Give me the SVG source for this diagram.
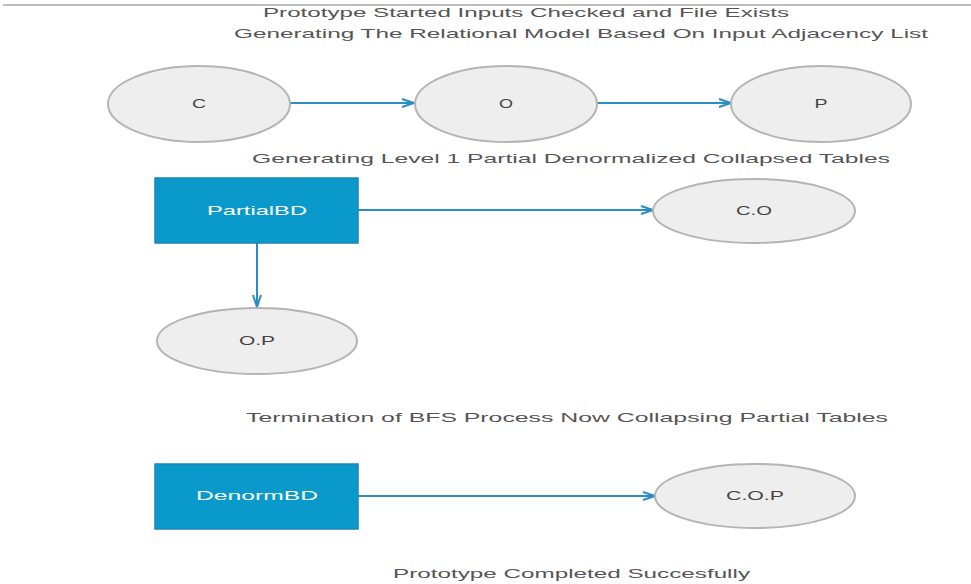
<svg xmlns="http://www.w3.org/2000/svg" width="971" height="584" viewBox="0 0 971 584">
  <style>
    .caption { font-family: "Liberation Sans", Arial, sans-serif; font-size: 13px; fill: #555; }
    .ent ellipse { fill: #eeeeee; stroke: #b4b4b4; stroke-width: 2; }
    .ent text { font-family: "Liberation Sans", Arial, sans-serif; font-size: 12px; fill: #444; text-anchor: middle; }
    .box rect { fill: #0a99cb; stroke: #1c84b4; stroke-width: 1.5; }
    .box text { font-family: "Liberation Sans", Arial, sans-serif; font-size: 13px; fill: #ffffff; text-anchor: middle; }
    .edge { stroke: #2a8dc5; stroke-width: 2; fill: none; }
  </style>
  <defs>
    <marker id="arrow" viewBox="0 0 14 10" refX="13" refY="5" markerWidth="14" markerHeight="10" markerUnits="userSpaceOnUse" orient="auto">
      <path d="M1,1 L13,5 L1,9" fill="none" stroke="#2a8dc5" stroke-width="2"/>
    </marker>
  </defs>
  <rect width="971" height="584" fill="#ffffff"/>
  <line x1="3" y1="5" x2="971" y2="5" stroke="#bdbdbd" stroke-width="2"/>

  <!-- status captions -->
  <g id="captions">
    <text class="caption" x="263" y="17" textLength="526" lengthAdjust="spacingAndGlyphs">Prototype Started Inputs Checked and File Exists</text>
    <text class="caption" x="234" y="38" textLength="694" lengthAdjust="spacingAndGlyphs">Generating The Relational Model Based On Input Adjacency List</text>
    <text class="caption" x="252" y="163" textLength="638" lengthAdjust="spacingAndGlyphs">Generating Level 1 Partial Denormalized Collapsed Tables</text>
    <text class="caption" x="246" y="422" textLength="642" lengthAdjust="spacingAndGlyphs">Termination of BFS Process Now Collapsing Partial Tables</text>
    <text class="caption" x="393" y="578" textLength="357" lengthAdjust="spacingAndGlyphs">Prototype Completed Succesfully</text>
  </g>

  <!-- connectors -->
  <g id="connectors">
    <line class="edge" x1="290" y1="103" x2="414" y2="103" marker-end="url(#arrow)"/>
    <line class="edge" x1="597" y1="103" x2="731" y2="103" marker-end="url(#arrow)"/>
    <line class="edge" x1="358" y1="210" x2="653" y2="210" marker-end="url(#arrow)"/>
    <line class="edge" x1="257" y1="243" x2="257" y2="307" marker-end="url(#arrow)"/>
    <line class="edge" x1="358" y1="496" x2="655" y2="496" marker-end="url(#arrow)"/>
  </g>

  <g id="node-C" class="ent">
    <ellipse cx="199" cy="104" rx="91" ry="38"/>
    <text x="199" y="108" textLength="14" lengthAdjust="spacingAndGlyphs">C</text>
  </g>
  <g id="node-O" class="ent">
    <ellipse cx="506" cy="104" rx="91" ry="38"/>
    <text x="506" y="108" textLength="14" lengthAdjust="spacingAndGlyphs">O</text>
  </g>
  <g id="node-P" class="ent">
    <ellipse cx="821" cy="104" rx="90" ry="38"/>
    <text x="821" y="108" textLength="13" lengthAdjust="spacingAndGlyphs">P</text>
  </g>

  <g id="node-PartialBD" class="box">
    <rect x="155" y="178" width="203" height="65"/>
    <text x="257" y="215" textLength="100" lengthAdjust="spacingAndGlyphs">PartialBD</text>
  </g>
  <g id="node-CO" class="ent">
    <ellipse cx="754" cy="211" rx="101" ry="32"/>
    <text x="754" y="215" textLength="36" lengthAdjust="spacingAndGlyphs">C.O</text>
  </g>
  <g id="node-OP" class="ent">
    <ellipse cx="257" cy="341" rx="100" ry="33"/>
    <text x="257" y="345" textLength="36" lengthAdjust="spacingAndGlyphs">O.P</text>
  </g>

  <g id="node-DenormBD" class="box">
    <rect x="155" y="464" width="203" height="65"/>
    <text x="257" y="500" textLength="122" lengthAdjust="spacingAndGlyphs">DenormBD</text>
  </g>
  <g id="node-COP" class="ent">
    <ellipse cx="755" cy="496" rx="100" ry="32"/>
    <text x="755" y="500" textLength="58" lengthAdjust="spacingAndGlyphs">C.O.P</text>
  </g>
</svg>
